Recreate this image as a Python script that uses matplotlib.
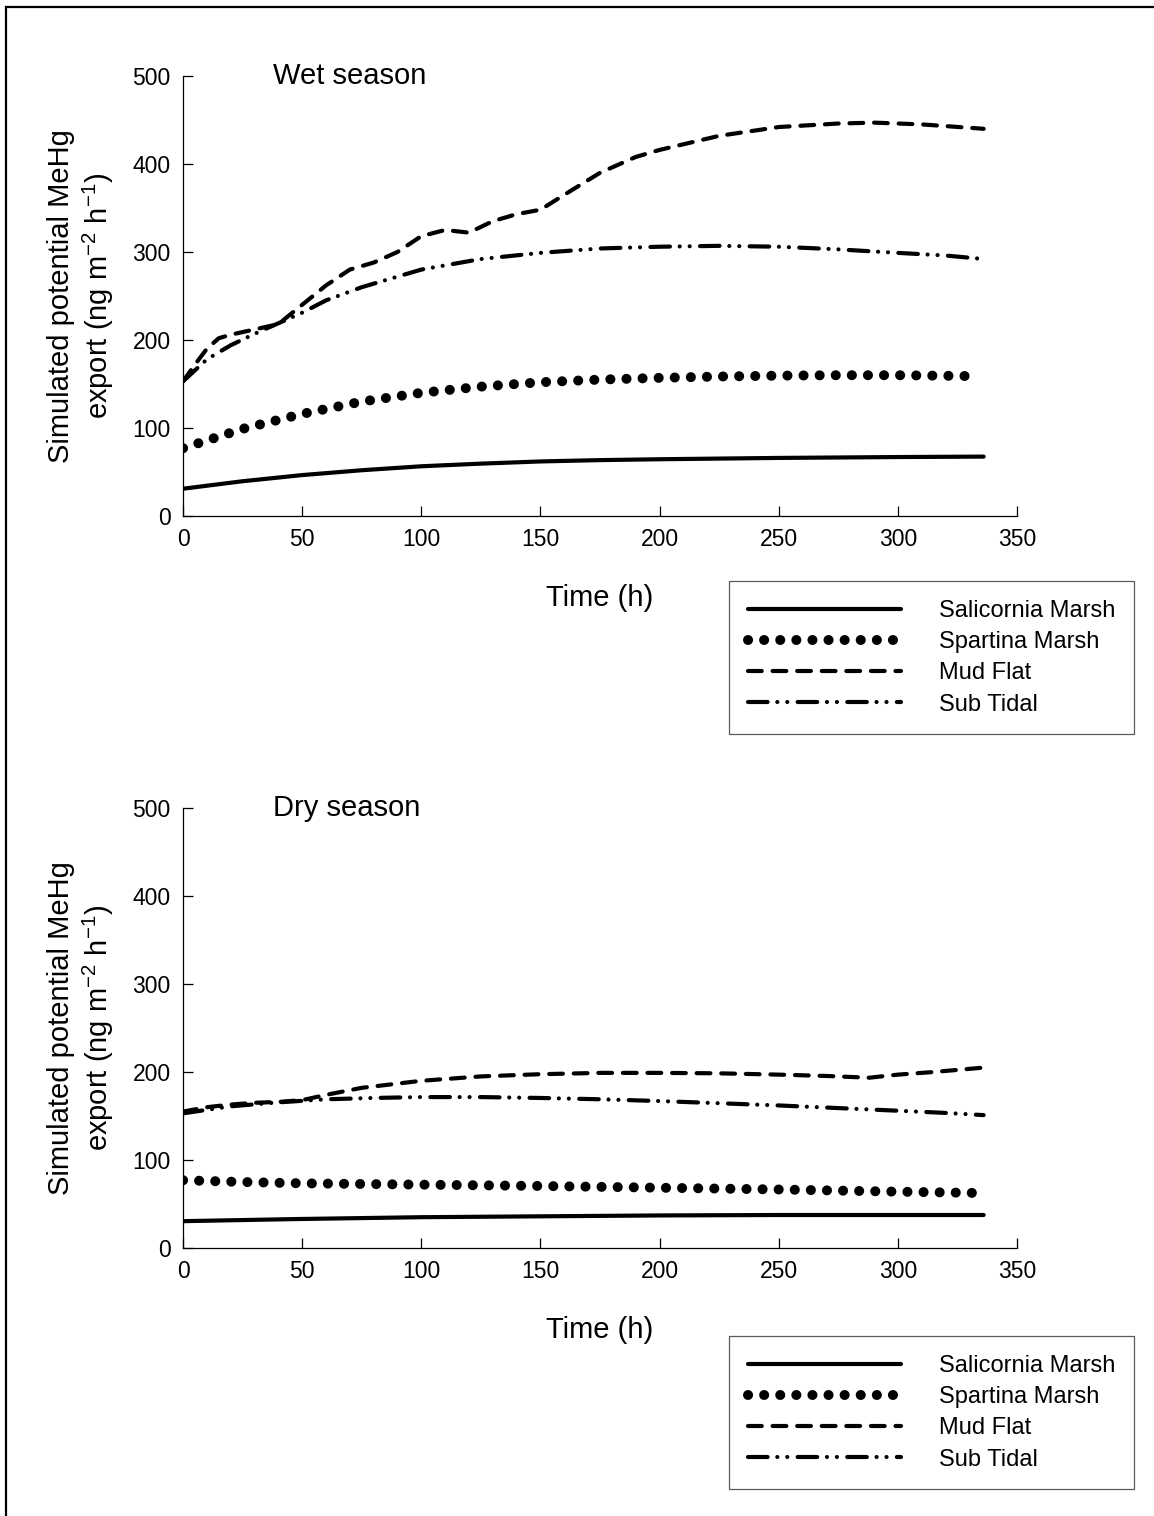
import matplotlib
matplotlib.use("Agg")
import matplotlib.pyplot as plt
from matplotlib.patches import Rectangle

plt.rcParams['font.family'] = ['Liberation Sans', 'DejaVu Sans']
plt.rcParams['mathtext.default'] = 'regular'

series_names = ["Salicornia Marsh", "Spartina Marsh", "Mud Flat", "Sub Tidal"]

# wet season
wet_sal_t = [0, 25, 50, 75, 100, 125, 150, 175, 200, 250, 300, 336]
wet_sal_v = [31, 39.5, 46.5, 52, 56.5, 59.5, 62, 63.5, 64.5, 66, 67, 67.5]
wet_spa_t = [0, 25, 50, 75, 100, 125, 150, 175, 200, 225, 250, 275, 300, 331]
wet_spa_v = [77, 99, 116, 130, 140, 147, 152, 155, 157, 158.5, 159.5, 160, 160, 159]
wet_mud_t = [0, 5, 10, 15, 20, 30, 40, 50, 60, 70, 80, 90, 100, 110, 120, 130, 140, 150,
             160, 175, 190, 200, 225, 250, 275, 290, 310, 336]
wet_mud_v = [153, 172, 190, 202, 206, 212, 218, 240, 262, 280, 288, 300, 318, 325, 322, 335,
             343, 348, 365, 390, 408, 416, 432, 442, 446, 447, 445, 440]
wet_sub_t = [0, 10, 20, 30, 40, 50, 60, 75, 100, 125, 150, 175, 200, 225, 250, 275, 300, 320, 336]
wet_sub_v = [153, 178, 194, 207, 219, 231, 245, 260, 280, 292, 299, 304, 306, 307, 306, 303, 299, 296, 292]

# dry season
dry_sal_t = [0, 50, 100, 150, 200, 250, 300, 336]
dry_sal_v = [30.5, 33, 35, 36, 37, 37.5, 37.5, 37.5]
dry_spa_t = [0, 25, 50, 100, 150, 200, 250, 300, 334]
dry_spa_v = [77, 75, 73.5, 72, 70.5, 68.5, 66.5, 64, 62.5]
dry_mud_t = [0, 10, 20, 30, 40, 50, 60, 75, 100, 125, 150, 175, 200, 225, 250, 270, 288, 300, 315, 336]
dry_mud_v = [155, 160, 163, 165, 166, 168, 174, 182, 190, 195, 197.5, 199, 199, 198.5, 197,
             195.5, 193.5, 197, 200, 205]
dry_sub_t = [0, 20, 40, 60, 80, 100, 125, 150, 175, 200, 225, 250, 275, 300, 320, 336]
dry_sub_v = [153, 161, 165.5, 169, 170.5, 171.5, 171.5, 170.5, 169, 167, 164.5, 162, 159, 156, 153.5, 151]

x_ticks = [0, 50, 100, 150, 200, 250, 300, 350]
y_ticks = [0, 100, 200, 300, 400, 500]

styles = [
    dict(linestyle='-', lw=3.0, solid_capstyle='round'),
    dict(linestyle=(0, (0.01, 1.6)), lw=7.2, dash_capstyle='round'),
    dict(linestyle=(0, (3.3, 2.6)), lw=3.0, dash_capstyle='round'),
    dict(linestyle=(0, (4.7, 2.33, 0.01, 2.38, 0.01, 2.48)), lw=3.0, dash_capstyle='round'),
]

fig = plt.figure(figsize=(11.54, 15.16), dpi=100)
fig.add_artist(Rectangle((5.5 / 1154, -0.05), 1.1, 1 - 7 / 1516 + 0.05, transform=fig.transFigure,
                         fill=False, lw=1.6, ec='black'))


def panel(bottom, data, title, leg_top):
    ax = fig.add_axes([183 / 1154, bottom, 834 / 1154, 440 / 1516])
    lines = []
    for (t, v), name, st in zip(data, series_names, styles):
        ln, = ax.plot(t, v, color='black', label=name, **st)
        lines.append(ln)
    ax.set_xlim(0, 350)
    ax.set_ylim(0, 500)
    ax.set_xticks(x_ticks)
    ax.set_yticks(y_ticks)
    for s in ['top', 'right']:
        ax.spines[s].set_visible(False)
    for s in ['left', 'bottom']:
        ax.spines[s].set_linewidth(0.9)
    ax.tick_params(direction='in', length=7, width=0.9, labelsize=16.5, pad=9)
    ax.set_xlabel('Time (h)', fontsize=21)
    ax.xaxis.label.set_va('center')
    ax.xaxis.set_label_coords(0.5, -0.186)
    ax.set_ylabel('Simulated potential MeHg\nexport (ng m$^{-2}$ h$^{-1}$)', fontsize=21)
    ax.yaxis.label.set(va='center', ha='center', rotation_mode='default')
    ax.yaxis.set_label_coords(-0.122, 0.5)
    ax.text(0.108, 1.0, title, transform=ax.transAxes, fontsize=21, ha='left', va='center')
    leg = ax.legend(handles=lines, loc='upper left', bbox_to_anchor=(729 / 1154, leg_top),
                    bbox_transform=fig.transFigure, fontsize=17, frameon=True, fancybox=False,
                    borderaxespad=0, borderpad=0.8, handlelength=6.5, handletextpad=1.6,
                    labelspacing=0.39)
    leg.get_frame().set_edgecolor('#333333')
    leg.get_frame().set_linewidth(0.9)
    return ax


panel(1 - 516 / 1516,
      [(wet_sal_t, wet_sal_v), (wet_spa_t, wet_spa_v), (wet_mud_t, wet_mud_v), (wet_sub_t, wet_sub_v)],
      'Wet season', 1 - 581 / 1516)
panel(1 - 1248 / 1516,
      [(dry_sal_t, dry_sal_v), (dry_spa_t, dry_spa_v), (dry_mud_t, dry_mud_v), (dry_sub_t, dry_sub_v)],
      'Dry season', 1 - 1336 / 1516)

fig.savefig('out.png', dpi=100)
